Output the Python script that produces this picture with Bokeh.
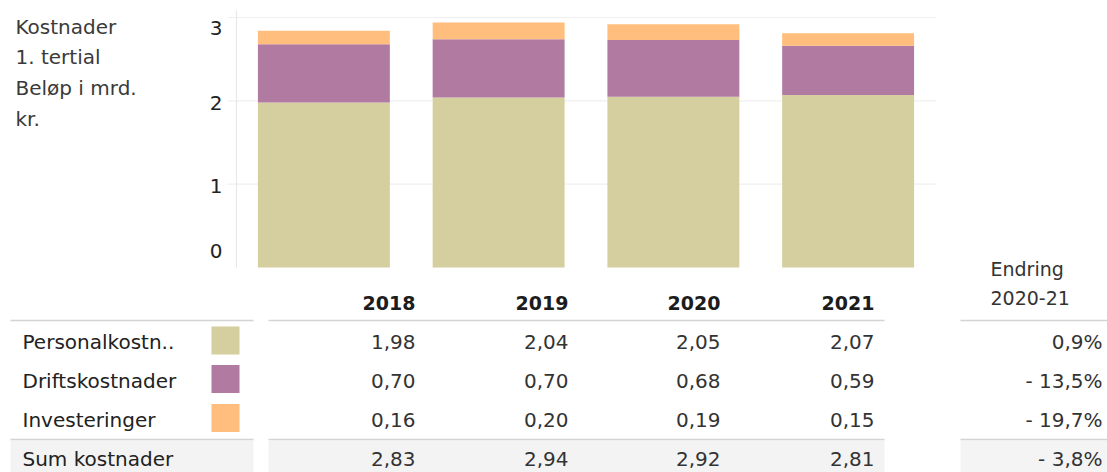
from bokeh.plotting import figure
from bokeh.models import Range1d, ColumnDataSource
from bokeh.core.properties import value
from bokeh.embed import file_html
from bokeh.resources import INLINE

# ---------------- data ----------------
years = ["2018", "2019", "2020", "2021"]
personal = [1.98, 2.04, 2.05, 2.07]
drift = [0.70, 0.70, 0.68, 0.59]
invest = [0.16, 0.20, 0.19, 0.15]
totals = [2.83, 2.94, 2.92, 2.81]
change = [0.9, -13.5, -19.7, -3.8]
series = ["Personalkostn..", "Driftskostnader", "Investeringer"]
colors = ["#d5ce9e", "#b07aa1", "#ffbe7d"]
y_ticks = [0, 1, 2, 3]
title_lines = ["Kostnader", "1. tertial", "Beløp i mrd.", "kr."]
change_header = ["Endring", "2020-21"]
sum_label = "Sum kostnader"

FONT = value("DejaVu Sans")

# ---------------- geometry (picture pixels) ----------------
W, H = 1107, 472
PX0, PX1 = 0, W
PY0, PY1 = 0, H
AX_L, AX_R = 236, 935          # bar pane
BASE, UNIT = 267, 83.33         # y=0 position, px per unit
BAND = (AX_R - AX_L) / len(years)


def dx(px):
    return (px - AX_L) / BAND - 0.5


def dy(py):
    return (BASE - py) / UNIT


p = figure(width=W, height=H, output_backend="svg", toolbar_location=None,
           x_range=Range1d(dx(PX0), dx(PX1)), y_range=Range1d(dy(PY1), dy(PY0)),
           min_border=0, outline_line_color=None,
           x_axis_type=None, y_axis_type=None)
p.background_fill_color = "white"
p.border_fill_color = "white"
p.extra_x_ranges = {"px": Range1d(PX0, PX1)}
p.extra_y_ranges = {"py": Range1d(PY1, PY0)}
PXR = dict(x_range_name="px", y_range_name="py")

# ---------------- table backgrounds / rules ----------------
seg_l = [10, 268, 960]
seg_r = [253, 884, 1107]
p.quad(left=seg_l, right=seg_r, top=[440] * 3, bottom=[472] * 3,
       fill_color=["#f3f3f3", "#f3f3f3", "#f4f4f4"], line_color=None, **PXR)
for yy in (320, 439):
    p.segment(x0=seg_l, x1=seg_r, y0=[yy] * 3, y1=[yy] * 3,
              line_color="#d4d4d4", line_width=1.6, **PXR)

# ---------------- bar chart ----------------
grid_ticks = [t for t in y_ticks if t > 0]
p.segment(x0=[-0.5 - 9 / BAND] * len(grid_ticks), x1=[len(years) - 0.5] * len(grid_ticks),
          y0=grid_ticks, y1=grid_ticks, line_color="#efefef", line_width=1.2)
p.segment(x0=[-0.5], x1=[-0.5], y0=[0], y1=[max(y_ticks) + 0.085],
          line_color="#e8e8e8", line_width=1.2)

src = ColumnDataSource(dict(x=list(range(len(years))), per=personal, dri=drift, inv=invest))
p.vbar_stack(["per", "dri", "inv"], x="x", width=0.755, color=colors,
             line_color=None, source=src)

p.text(x=[-0.5 - 14 / BAND] * len(y_ticks), y=y_ticks, text=[str(t) for t in y_ticks],
       y_offset=[-17, 2, 2, 10], text_align="right", text_baseline="middle",
       text_font=FONT, text_font_size="20px", text_color="#222222")

# title block
p.text(x=[15] * len(title_lines), y=[26 + 30.8 * i for i in range(len(title_lines))],
       text=title_lines, text_align="left", text_baseline="middle",
       text_font=FONT, text_font_size="20px", text_color="#3a3a3a", **PXR)

# ---------------- table ----------------
col_r = [415, 568, 720, 874]
row_y = [341.5, 380, 419]
sum_y = 458
chg_r = 1102


def fmt(v):
    return f"{v:.2f}".replace(".", ",")


def fmt_pct(v):
    s = f"{abs(v):.1f}".replace(".", ",") + "%"
    return ("- " + s) if v < 0 else s


p.text(x=col_r, y=[302] * len(years), text=years, text_align="right",
       text_baseline="middle", text_font=FONT, text_font_size="19px",
       text_font_style="bold", text_color="#1c1c1c", **PXR)
p.text(x=[990] * 2, y=[268, 297], text=change_header, text_align="left",
       text_baseline="middle", text_font=FONT, text_font_size="19px",
       text_color="#333333", **PXR)

p.text(x=[22] * (len(series) + 1), y=row_y + [sum_y], text=series + [sum_label],
       text_align="left", text_baseline="middle", text_font=FONT,
       text_font_size="20px", text_color="#222222", **PXR)
p.rect(x=[225] * len(series), y=[r - 1.5 for r in row_y], width=28, height=28,
       fill_color=colors, line_color=None, **PXR)

vals = [personal, drift, invest, totals]
ys = row_y + [sum_y]
tx, ty, tt = [], [], []
for ri, row in enumerate(vals):
    for ci, v in enumerate(row):
        tx.append(col_r[ci])
        ty.append(ys[ri])
        tt.append(fmt(v))
p.text(x=tx, y=ty, text=tt, text_align="right", text_baseline="middle",
       text_font=FONT, text_font_size="20px", text_color="#333333", **PXR)

p.text(x=[chg_r] * len(change), y=ys, text=[fmt_pct(c) for c in change],
       text_align="right", text_baseline="middle", text_font=FONT,
       text_font_size="20px", text_color="#333333", **PXR)

open("out.html", "w").write(file_html(p, INLINE))
